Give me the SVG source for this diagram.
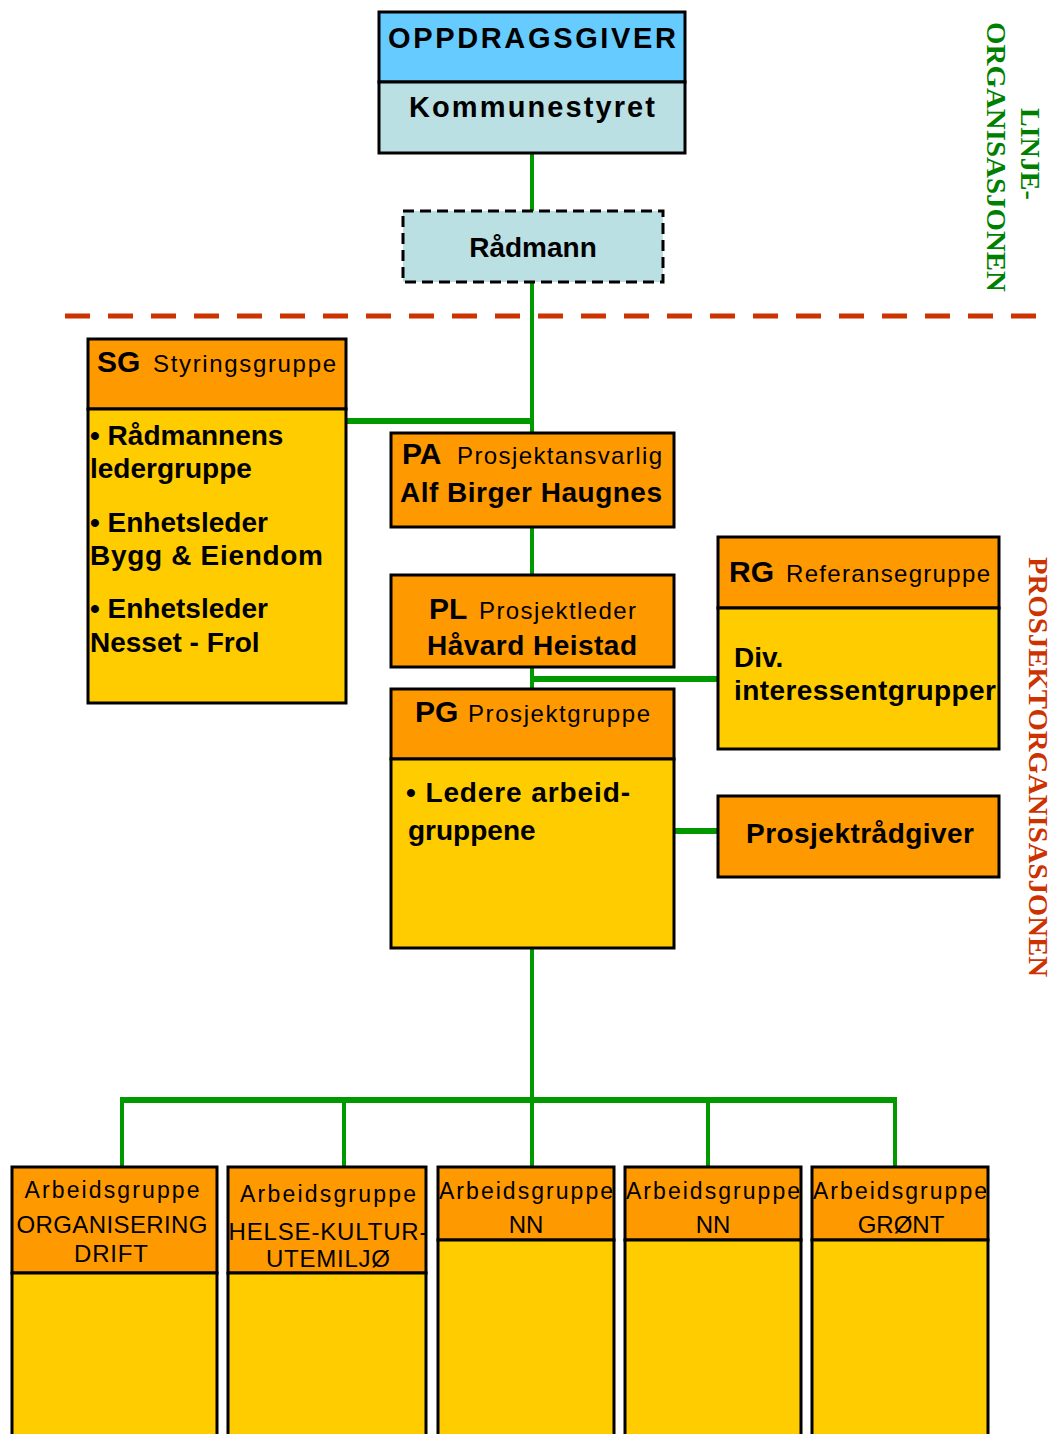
<svg xmlns="http://www.w3.org/2000/svg" width="1053" height="1434" viewBox="0 0 1053 1434">
<style>
.box{stroke:#000;stroke-width:3}
.hdr{fill:#FF9900}
.body{fill:#FFCC00}
.t{font-family:"Liberation Sans",Arial,sans-serif;fill:#000}
.b{font-weight:bold}
.big{font-size:30px;font-weight:bold}
.sm{font-size:24px}
.bt{font-size:28px;font-weight:bold}
.ag{font-size:23px}
.ag2{font-size:24px}
.c{text-anchor:middle}
.conn{stroke:#009900;fill:none}
.vt{font-family:"Liberation Serif","Times New Roman",serif;font-weight:bold;font-size:28px}
</style>
<rect width="1053" height="1434" fill="#fff"/>

<g id="connectors">
  <line class="conn" x1="532" y1="153" x2="532" y2="211" stroke-width="4"/>
  <line class="conn" x1="532" y1="282" x2="532" y2="433" stroke-width="4"/>
  <line class="conn" x1="346" y1="421" x2="534" y2="421" stroke-width="6"/>
  <line class="conn" x1="532" y1="527" x2="532" y2="575" stroke-width="4"/>
  <line class="conn" x1="532" y1="667" x2="532" y2="689" stroke-width="4"/>
  <line class="conn" x1="530" y1="679" x2="718" y2="679" stroke-width="6"/>
  <line class="conn" x1="674" y1="831" x2="718" y2="831" stroke-width="6"/>
  <line class="conn" x1="532" y1="948" x2="532" y2="1167" stroke-width="4"/>
  <line class="conn" x1="120" y1="1100" x2="897" y2="1100" stroke-width="6"/>
  <line class="conn" x1="122" y1="1100" x2="122" y2="1167" stroke-width="4"/>
  <line class="conn" x1="344" y1="1100" x2="344" y2="1167" stroke-width="4"/>
  <line class="conn" x1="708" y1="1100" x2="708" y2="1167" stroke-width="4"/>
  <line class="conn" x1="895" y1="1100" x2="895" y2="1167" stroke-width="4"/>
</g>

<g id="separator">
  <line x1="65" y1="316" x2="1053" y2="316" stroke="#CC3300" stroke-width="5" stroke-dasharray="25 18"/>
</g>

<g id="labels">
  <text class="vt" fill="#008000" transform="translate(1021,108) rotate(90)">LINJE-</text>
  <text class="vt" fill="#008000" transform="translate(987,22) rotate(90)" textLength="270" lengthAdjust="spacingAndGlyphs">ORGANISASJONEN</text>
  <text class="vt" fill="#CC3300" font-size="26" transform="translate(1029,557) rotate(90)" textLength="420" lengthAdjust="spacingAndGlyphs">PROSJEKTORGANISASJONEN</text>
</g>

<g id="oppdragsgiver">
  <rect class="box" x="379" y="12" width="306" height="70" fill="#66CCFF"/>
  <rect class="box" x="379" y="82" width="306" height="71" fill="#BBE0E3"/>
  <text class="t b c" x="532" y="48" font-size="29" textLength="288" lengthAdjust="spacing">OPPDRAGSGIVER</text>
  <text class="t b c" x="532" y="117" font-size="29" textLength="246" lengthAdjust="spacing">Kommunestyret</text>
</g>

<g id="radmann">
  <rect x="403" y="211" width="260" height="71" fill="#BBE0E3" stroke="#000" stroke-width="3" stroke-dasharray="11 6"/>
  <text class="t b c" x="533" y="257" font-size="28">Rådmann</text>
</g>

<g id="sg">
  <rect class="box hdr" x="88" y="339" width="258" height="70"/>
  <rect class="box body" x="88" y="409" width="258" height="294"/>
  <text class="t big" x="97" y="372">SG</text>
  <text class="t sm" x="153" y="372" textLength="183" lengthAdjust="spacing">Styringsgruppe</text>
  <text class="t bt" x="90" y="445">• Rådmannens</text>
  <text class="t bt" x="90" y="478">ledergruppe</text>
  <text class="t bt" x="90" y="532">• Enhetsleder</text>
  <text class="t bt" x="90" y="565" textLength="233" lengthAdjust="spacing">Bygg &amp; Eiendom</text>
  <text class="t bt" x="90" y="618">• Enhetsleder</text>
  <text class="t bt" x="90" y="652">Nesset - Frol</text>
</g>

<g id="pa">
  <rect class="box hdr" x="391" y="433" width="283" height="94"/>
  <text class="t big" x="402" y="464">PA</text>
  <text class="t sm" x="457" y="464" textLength="205" lengthAdjust="spacing">Prosjektansvarlig</text>
  <text class="t bt" x="400" y="502" textLength="262" lengthAdjust="spacing">Alf Birger Haugnes</text>
</g>

<g id="pl">
  <rect class="box hdr" x="391" y="575" width="283" height="92"/>
  <text class="t big" x="429" y="619">PL</text>
  <text class="t sm" x="479" y="619" textLength="157" lengthAdjust="spacing">Prosjektleder</text>
  <text class="t bt" x="427" y="655" textLength="210" lengthAdjust="spacing">Håvard Heistad</text>
</g>

<g id="rg">
  <rect class="box hdr" x="718" y="537" width="281" height="71"/>
  <rect class="box body" x="718" y="608" width="281" height="141"/>
  <text class="t big" x="729" y="582">RG</text>
  <text class="t sm" x="786" y="582" textLength="204" lengthAdjust="spacing">Referansegruppe</text>
  <text class="t bt" x="734" y="667">Div.</text>
  <text class="t bt" x="734" y="700" textLength="262" lengthAdjust="spacing">interessentgrupper</text>
</g>

<g id="pg">
  <rect class="box hdr" x="391" y="689" width="283" height="70"/>
  <rect class="box body" x="391" y="759" width="283" height="189"/>
  <text class="t big" x="415" y="722">PG</text>
  <text class="t sm" x="468" y="722" textLength="182" lengthAdjust="spacing">Prosjektgruppe</text>
  <text class="t bt" x="406" y="802" textLength="224" lengthAdjust="spacing">• Ledere arbeid-</text>
  <text class="t bt" x="408" y="840">gruppene</text>
</g>

<g id="prosjektradgiver">
  <rect class="box hdr" x="718" y="796" width="281" height="81"/>
  <text class="t bt c" x="860" y="843" textLength="228" lengthAdjust="spacing">Prosjektrådgiver</text>
</g>

<g id="ag1">
  <rect class="box hdr" x="12" y="1167" width="205" height="106"/>
  <rect class="box body" x="12" y="1273" width="205" height="170"/>
  <text class="t ag c" x="112" y="1198" textLength="175" lengthAdjust="spacing">Arbeidsgruppe</text>
  <text class="t ag2 c" x="112" y="1233" textLength="191" lengthAdjust="spacing">ORGANISERING</text>
  <text class="t ag2 c" x="111" y="1262" textLength="74" lengthAdjust="spacing">DRIFT</text>
</g>

<g id="ag2">
  <rect class="box hdr" x="228" y="1167" width="198" height="106"/>
  <rect class="box body" x="228" y="1273" width="198" height="170"/>
  <text class="t ag c" x="328" y="1202" textLength="176" lengthAdjust="spacing">Arbeidsgruppe</text>
  <text class="t ag2 c" x="328" y="1240" textLength="199" lengthAdjust="spacing">HELSE-KULTUR-</text>
  <text class="t ag2 c" x="328" y="1267" textLength="124" lengthAdjust="spacing">UTEMILJØ</text>
</g>

<g id="ag3">
  <rect class="box hdr" x="438" y="1167" width="176" height="73"/>
  <rect class="box body" x="438" y="1240" width="176" height="203"/>
  <text class="t ag c" x="526" y="1199" textLength="174" lengthAdjust="spacing">Arbeidsgruppe</text>
  <text class="t ag2 c" x="526" y="1233">NN</text>
</g>

<g id="ag4">
  <rect class="box hdr" x="625" y="1167" width="176" height="73"/>
  <rect class="box body" x="625" y="1240" width="176" height="203"/>
  <text class="t ag c" x="713" y="1199" textLength="174" lengthAdjust="spacing">Arbeidsgruppe</text>
  <text class="t ag2 c" x="713" y="1233">NN</text>
</g>

<g id="ag5">
  <rect class="box hdr" x="812" y="1167" width="176" height="73"/>
  <rect class="box body" x="812" y="1240" width="176" height="203"/>
  <text class="t ag c" x="900" y="1199" textLength="174" lengthAdjust="spacing">Arbeidsgruppe</text>
  <text class="t ag2 c" x="901" y="1233">GRØNT</text>
</g>
</svg>
